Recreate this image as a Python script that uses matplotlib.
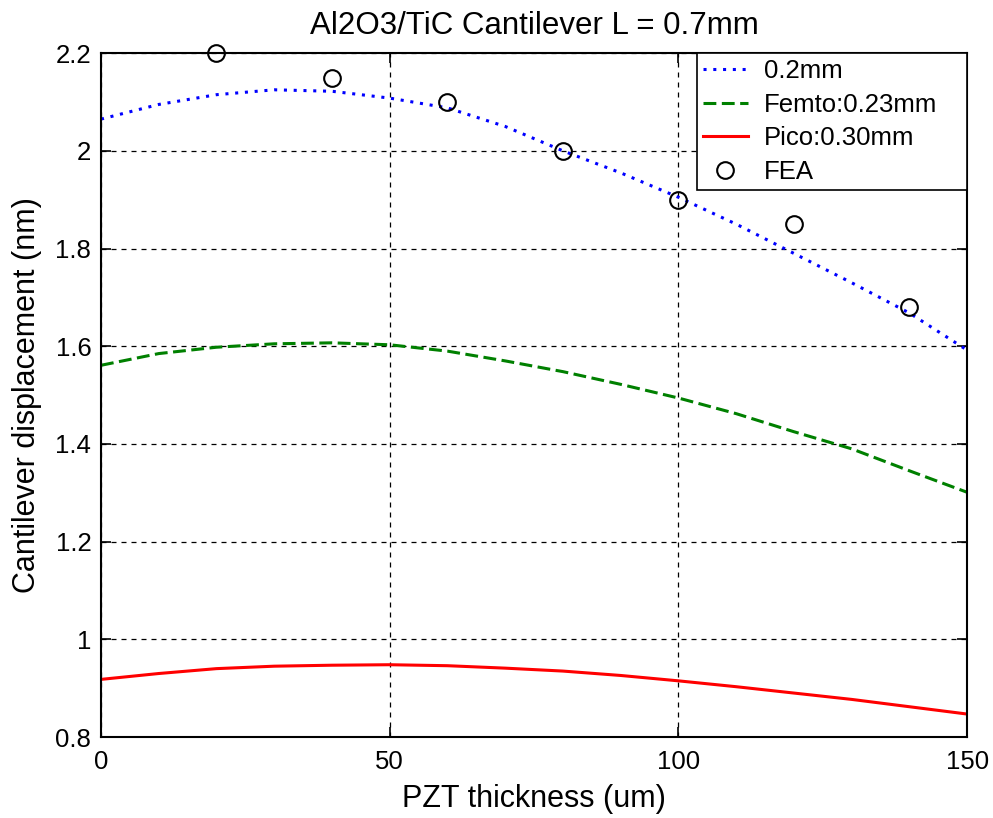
import matplotlib
matplotlib.use("Agg")
import matplotlib.pyplot as plt

x = [0, 10, 20, 30, 40, 50, 60, 70, 80, 90, 100, 110, 120, 130, 140, 150]
y_02 = [2.065, 2.095, 2.115, 2.125, 2.122, 2.108, 2.088, 2.05, 2.0, 1.955,
        1.905, 1.85, 1.79, 1.73, 1.668, 1.592]
y_femto = [1.561, 1.585, 1.598, 1.605, 1.607, 1.603, 1.59, 1.57, 1.548, 1.522,
           1.494, 1.462, 1.425, 1.39, 1.345, 1.301]
y_pico = [0.918, 0.93, 0.94, 0.945, 0.947, 0.948, 0.946, 0.941, 0.935, 0.926,
          0.915, 0.903, 0.89, 0.877, 0.862, 0.847]
fea_x = [20, 40, 60, 80, 100, 120, 140]
fea_y = [2.2, 2.15, 2.1, 2.0, 1.9, 1.85, 1.68]

plt.rcParams['font.family'] = ['Liberation Sans', 'DejaVu Sans']

fig = plt.figure(figsize=(9.93, 8.18), dpi=100)
ax = fig.add_axes([0.1017, 0.099, 0.8723, 0.836])

ax.plot(x, y_02, color='#0000ff', linestyle=(0, (1, 2.2)), linewidth=2.2, label='0.2mm')
ax.plot(x, y_femto, color='#008000', linestyle=(0, (4.2, 1.8)), linewidth=2.2, label='Femto:0.23mm')
ax.plot(x, y_pico, color='#ff0000', linestyle='-', linewidth=2.2, label='Pico:0.30mm')
ax.plot(fea_x, fea_y, linestyle='none', marker='o', markersize=12, markerfacecolor='none',
        markeredgecolor='black', markeredgewidth=1.5, label='FEA', clip_on=False)

ax.set_xlim(0, 150)
ax.set_ylim(0.8, 2.2)
ax.set_xticks([0, 50, 100, 150])
ax.set_xticklabels(['0', '50', '100', '150'])
ax.set_yticks([0.8, 1.0, 1.2, 1.4, 1.6, 1.8, 2.0, 2.2])
ax.set_yticklabels(['0.8', '1', '1.2', '1.4', '1.6', '1.8', '2', '2.2'])
ax.grid(True, color='black', linestyle=(0, (4, 4)), linewidth=0.9)
ax.tick_params(direction='in', length=7, top=True, right=True, labelsize=18.5, width=1.2)
ax.tick_params(axis='x', pad=9)
ax.tick_params(axis='y', pad=7)
for s in ax.spines.values():
    s.set_linewidth(1.5)
    s.set_color('black')

ax.set_xlabel('PZT thickness (um)', fontsize=22)
ax.set_ylabel('Cantilever displacement (nm)', fontsize=22)
ax.xaxis.set_label_coords(0.5, -0.068)
ax.yaxis.set_label_coords(-0.068, 0.5)
ax.set_title('Al2O3/TiC Cantilever L = 0.7mm', fontsize=22.5, pad=14)

leg = ax.legend(loc='upper left', bbox_to_anchor=(0.688, 0.0, 0.312, 1.0), mode='expand',
                fontsize=18.5, fancybox=False, framealpha=1,
                edgecolor='black', borderaxespad=0, handlelength=1.75, labelspacing=0.38,
                handletextpad=0.65, borderpad=0.22)
leg.get_frame().set_linewidth(1.2)

fig.savefig('out.png', dpi=100)
